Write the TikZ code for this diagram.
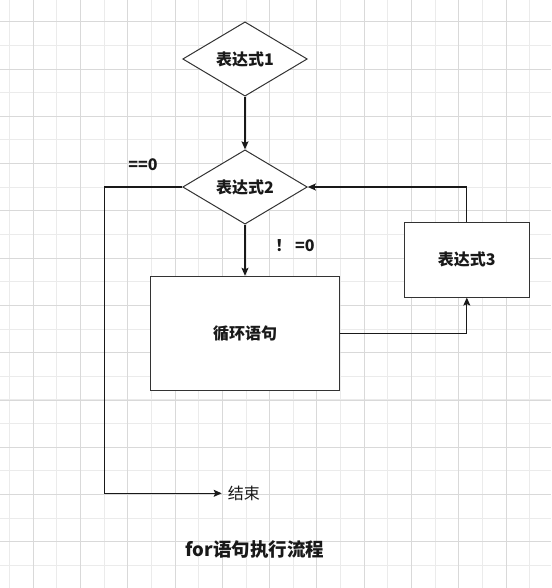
\documentclass[tikz,border=0pt]{standalone}
\usepackage{fontspec}
\setmainfont{Noto Sans CJK SC}
\usetikzlibrary{shapes.geometric,arrows.meta}
\tikzset{
  minorgrid/.style={draw=black!8, line width=0.8pt},
  majorgrid/.style={draw=black!15, line width=0.8pt},
  shapeline/.style={draw=black!80, line width=1pt, fill=white},
  dia/.style={shapeline, diamond, inner sep=0pt, minimum width=124.6pt, minimum height=74.3pt},
  boxnode/.style={shapeline, rectangle, inner sep=0pt},
  lbl/.style={font=\fontsize{16}{19}\selectfont\bfseries, text=black!90},
  conn/.style={draw=black!90, line width=1.1pt, -{Stealth[length=8pt,width=7pt,inset=1.5pt]}},
  plain/.style={draw=black!90, line width=1.1pt}
}
\begin{document}
\begin{tikzpicture}[x=1pt,y=-1pt]
\useasboundingbox (0,0) rectangle (551,588);
\fill[white] (0,0) rectangle (551,588);
% grid
\foreach \k in {0,...,23} {
  \draw[minorgrid] ({9.5+23.64*\k},0) -- ({9.5+23.64*\k},588);
}
\foreach \k in {0,...,24} {
  \draw[minorgrid] (0,{-2+23.64*\k}) -- (551,{-2+23.64*\k});
}
\foreach \k in {0,...,11} {
  \draw[majorgrid] ({33.1+47.28*\k},0) -- ({33.1+47.28*\k},588);
}
\foreach \k in {0,...,12} {
  \draw[majorgrid] (0,{21.7+47.28*\k}) -- (551,{21.7+47.28*\k});
}
% nodes
\node[dia, lbl] (d1) at (245,59) {表达式1};
\node[dia, lbl] (d2) at (245,187) {表达式2};
\node[boxnode, lbl, minimum width=188.6pt, minimum height=114pt] (loop) at (245,333.3) {循环语句};
\node[boxnode, lbl, minimum width=125pt, minimum height=74.7pt] (e3) at (466.8,259.7) {表达式3};
\node[font=\fontsize{16}{19}\selectfont, text=black!90, anchor=west, inner xsep=6pt, inner ysep=0pt] (end) at (221.7,493.3) {结束};
\node[lbl] (eq0) at (143,164.7) {==0};
\node[lbl] (ne0) at (295,245.3) {！ =0};
\node[font=\fontsize{18.5}{22}\selectfont\bfseries, text=black!90] (title) at (255,549.3) {for语句执行流程};
\coordinate (c1) at (104.3,187);
\coordinate (c2) at (104.3,493.3);
% connectors
\draw[conn] (d1.south) -- (d2.north);
\draw[conn] (d2.south) -- (loop.north);
\draw[conn] (loop.east) -| (e3.south);
\draw[conn] (e3.north) |- (d2.east);
\draw[conn] (d2.west) -- (c1) -- (c2) -- (end.west);
\end{tikzpicture}
\end{document}
